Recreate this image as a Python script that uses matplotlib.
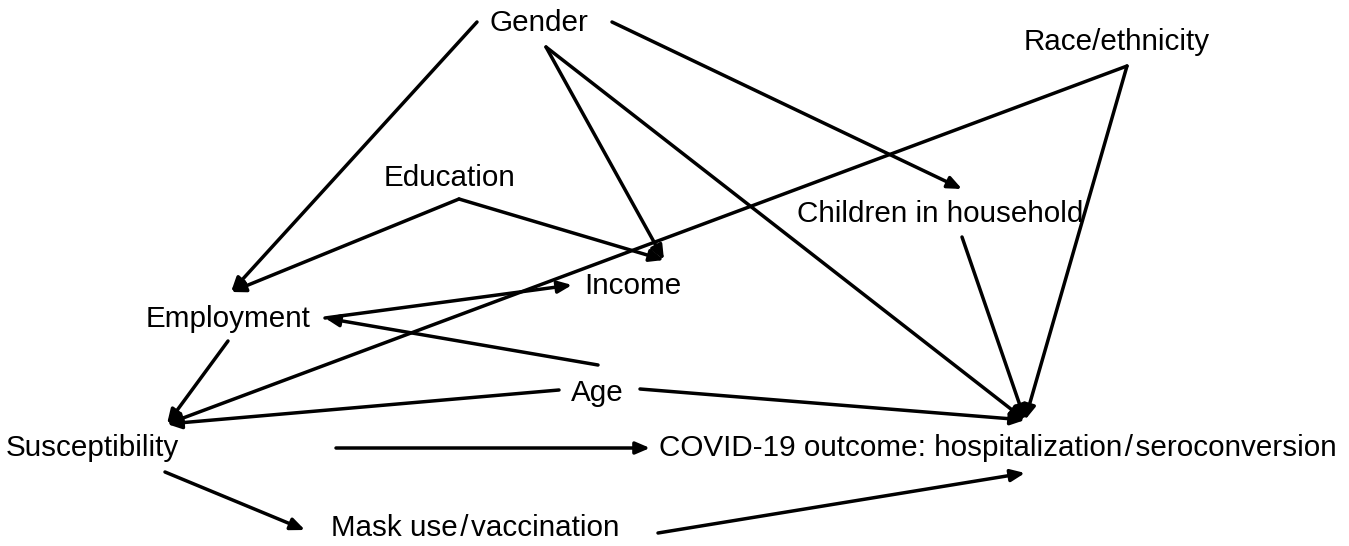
import matplotlib.pyplot as plt

plt.rcParams["font.family"] = ["Liberation Sans", "DejaVu Sans"]

# node labels and their centre positions (image pixels, y downwards)
node_labels = [
    "Gender",
    "Race/ethnicity",
    "Education",
    "Children in household",
    "Income",
    "Employment",
    "Age",
    "Susceptibility",
    "COVID-19 outcome: hospitalization\u200a/\u200aseroconversion",
    "Mask use\u200a/\u200avaccination",
]
node_x = [539, 1117, 449, 940, 633, 228, 597, 92, 998, 475]
node_y = [23, 42, 178, 214, 286, 319, 393, 448, 448, 528]

# edges: start point -> end point (arrowhead at end)
edge_start_x = [477, 612, 546, 546, 459, 459, 1127, 1127, 962, 325, 598, 228, 559, 640, 336, 165, 658]
edge_start_y = [22, 22, 47, 47, 199, 199, 66, 66, 237, 318, 365, 341, 390, 389, 448, 472, 533]
edge_end_x = [231, 962, 664, 1025, 231, 664, 167, 1025, 1025, 572, 325, 167, 167, 1025, 650, 305, 1025]
edge_end_y = [292, 189, 260, 420, 292, 260, 424, 420, 420, 285, 318, 424, 424, 420, 448, 530, 473]

fig = plt.figure(figsize=(13.49, 5.46), dpi=100)
ax = fig.add_axes([0, 0, 1, 1])
ax.set_xlim(0, 1349)
ax.set_ylim(546, 0)
ax.axis("off")

for x0, y0, x1, y1 in zip(edge_start_x, edge_start_y, edge_end_x, edge_end_y):
    ax.annotate(
        "",
        xy=(x1, y1),
        xytext=(x0, y0),
        arrowprops=dict(
            arrowstyle="-|>,head_length=0.7,head_width=0.3",
            color="black",
            lw=2.5,
            mutation_scale=12,
            shrinkA=0,
            shrinkB=0,
        ),
    )

for label, x, y in zip(node_labels, node_x, node_y):
    ax.text(x, y, label, ha="center", va="center", fontsize=21.3, color="black")

fig.savefig("out.png", dpi=100)
plt.close(fig)
